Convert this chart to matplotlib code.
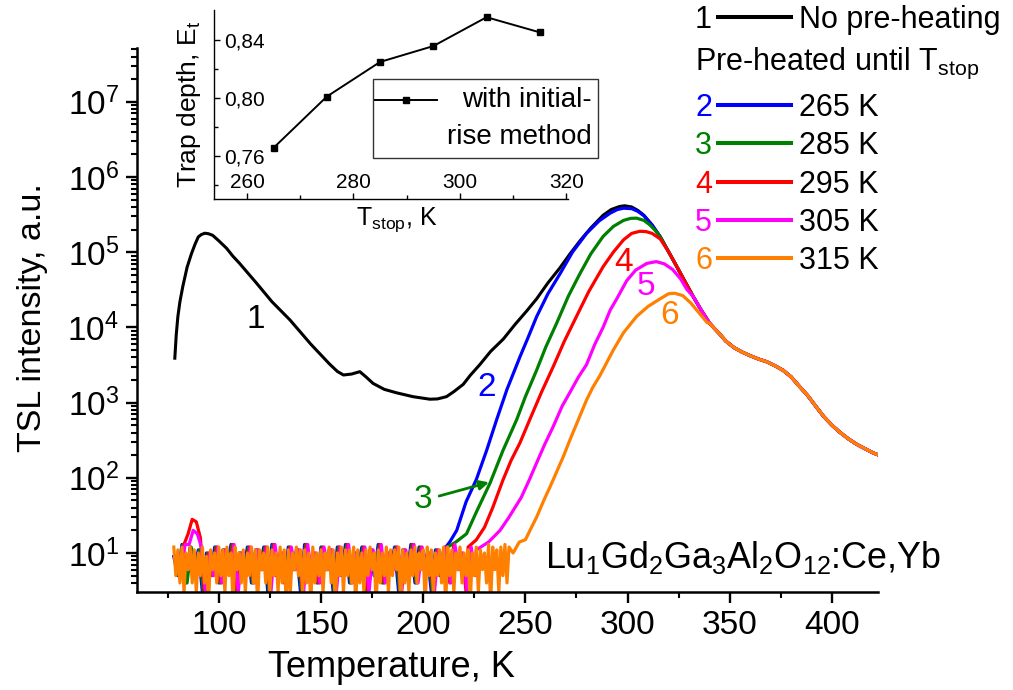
import numpy as np
import matplotlib
matplotlib.use("Agg")
from matplotlib import pyplot as plt
from matplotlib.lines import Line2D
from matplotlib.patches import Rectangle
from matplotlib.ticker import MultipleLocator, LogLocator, NullFormatter, FixedLocator, FuncFormatter

plt.rcParams.update(
    {
        "font.family": "Liberation Sans",
        "mathtext.fontset": "custom",
        "mathtext.rm": "Liberation Sans",
        "mathtext.it": "Liberation Sans",
        "mathtext.bf": "Liberation Sans:bold",
        "mathtext.default": "regular",
    }
)

# ---- data ----
# curve 1, no pre-heating (K, a.u.)
black_T = [78.5, 79.2, 80, 81, 82.4, 84.5, 86.6, 88.5, 90, 91.5, 93.2, 95, 97, 100, 103.8, 107,
           110, 118.4, 126, 134.8, 145, 154, 158, 161, 165, 169, 172, 175.5, 181, 187, 195,
           203.3, 207, 211.4, 215, 219.6, 223, 227.7, 233, 239.2, 245, 250.6, 255.5, 261,
           266.9, 271.8, 277, 282, 285, 288, 292, 296, 298.5, 302, 305, 308]
black_I = [3.9e3, 8e3, 1.4e4, 2.2e4, 3.5e4, 6.3e4, 9.5e4, 1.3e5, 1.6e5, 1.72e5, 1.79e5, 1.76e5,
           1.68e5, 1.42e5, 1.13e5, 8.8e4, 7.2e4, 3.9e4, 2.2e4, 1.26e4, 6e3, 3.3e3, 2.6e3, 2.33e3,
           2.4e3, 2.58e3, 2.2e3, 1.8e3, 1.5e3, 1.35e3, 1.2e3, 1.11e3, 1.12e3, 1.2e3, 1.4e3,
           1.75e3, 2.3e3, 3.2e3, 4.8e3, 7e3, 1.1e4, 1.65e4, 2.4e4, 3.9e4, 6.2e4, 9.5e4, 1.45e5,
           2.1e5, 2.55e5, 3.1e5, 3.7e5, 4.05e5, 4.15e5, 4.0e5, 3.6e5, 3.1e5]

# shared descent after the main peak and high temperature tail
desc_T = [312, 316, 320, 324, 328, 332, 336, 340]
desc_I = [2.3e5, 1.6e5, 1.02e5, 6.5e4, 4.1e4, 2.6e4, 1.7e4, 1.15e4]
tail_T = [342, 345, 348, 352, 356, 360, 364, 368, 372, 376, 380, 384, 388, 392, 396, 400,
          404, 408, 412, 416, 420, 423]
tail_I = [1.0e4, 8.2e3, 6.6e3, 5.4e3, 4.7e3, 4.2e3, 3.8e3, 3.5e3, 3.1e3, 2.7e3, 2.2e3, 1.65e3,
          1.25e3, 900, 650, 500, 400, 330, 280, 245, 215, 200]

# noisy background of curve 6 (1 K steps from 78 K)
floor_T = np.arange(78, 243, 1)
floor_orange = [12, 5, 11, 4, 12, 3, 10, 6, 12, 4,
                11, 3, 10, 5, 12, 4, 9, 2, 11, 6,
                10, 4, 12, 5, 11, 3, 12, 5, 10, 2,
                12, 6, 10, 4, 11, 3, 10, 5, 12, 4,
                11, 2, 11, 6, 10, 4, 12, 3, 11, 5,
                10, 3, 12, 4, 11, 2, 11, 3, 10, 6,
                12, 5, 11, 3, 11, 4, 10, 2, 12, 4,
                10, 5, 11, 3, 10, 6, 12, 4, 11, 2,
                10, 5, 12, 3, 11, 5, 11, 4, 12, 2,
                11, 4, 10, 3, 11, 5, 12, 6, 10, 2,
                11, 4, 10, 5, 12, 3, 11, 5, 11, 6,
                12, 2, 11, 4, 10, 3, 11, 5, 12, 4,
                10, 6, 11, 2, 12, 5, 11, 3, 10, 5,
                11, 4, 12, 2, 12, 5, 11, 3, 10, 6,
                12, 4, 10, 5, 11, 2, 10, 5, 12, 3,
                11, 6, 10, 4, 13, 2, 12, 6, 11, 3,
                12, 5, 13, 4, 12]
# noisy background of curves 2-5 (2 K steps from 78 K)
floor2_T = np.arange(78, 243, 2)
floor_mix = [9, 5, 13, 4, 12, 6, 11, 3, 10, 5,
             12, 4, 11, 6, 13, 3, 10, 5, 12, 4,
             11, 6, 12, 3, 13, 5, 10, 4, 12, 6,
             11, 3, 13, 5, 10, 4, 12, 6, 11, 3,
             12, 5, 13, 4, 10, 6, 12, 3, 11, 5,
             13, 4, 10, 6, 12, 3, 11, 5, 13, 4,
             12, 6, 10, 3, 11, 5, 12, 4, 13, 6,
             10, 3, 12, 5, 11, 4, 13, 6, 10, 3,
             12, 5, 11]
bump_T = [86, 88, 90, 92]
red_bump = [18, 28, 26, 16]
mag_bump = [13, 20, 18, 12]

# rising parts of the pre-heated curves
blue_T = [210, 213, 216.4, 221, 226, 231, 236, 241, 247.4, 251, 255.5, 261, 267, 273, 280, 286,
          291.4, 295, 298, 302, 305, 308]
blue_I = [11, 14, 20, 48, 95, 230, 600, 1.5e3, 4.1e3, 7e3, 1.39e4, 2.8e4, 5.2e4, 1.0e5, 1.79e5,
          2.6e5, 3.3e5, 3.7e5, 3.85e5, 3.8e5, 3.5e5, 3.05e5]
green_T = [212, 216, 221.2, 226, 232.7, 239, 245.7, 250, 255.5, 260, 265.3, 271, 276.7, 282, 288,
           293, 298, 301.5, 304.4, 308, 311, 313.5]
green_I = [12, 14, 18, 35, 85, 230, 590, 1.2e3, 2.7e3, 5.5e3, 1.14e4, 2.6e4, 5.2e4, 9.5e4, 1.62e5,
           2.2e5, 2.65e5, 2.82e5, 2.84e5, 2.65e5, 2.3e5, 1.95e5]
red_T = [222, 226, 230, 234, 239, 243, 247.3, 252.2, 258, 263.6, 269, 275, 281, 288, 293, 298,
         302, 306, 309, 312, 316]
red_I = [12, 15, 22, 40, 93, 170, 290, 600, 1.4e3, 3e3, 6.5e3, 1.4e4, 3e4, 6.4e4, 1.0e5, 1.46e5,
         1.78e5, 1.9e5, 1.88e5, 1.78e5, 1.5e5]
mag_T = [226, 232, 237.6, 242, 248, 252, 256, 259.5, 263.6, 268, 272, 276, 279.9, 284, 288, 291.5,
         294.7, 299.6, 304, 309.4, 314, 318, 322, 326, 329]
mag_I = [11, 14, 20, 30, 55, 95, 170, 280, 480, 900, 1.4e3, 2.2e3, 3.2e3, 6e3, 1.0e4, 1.7e4,
         2.4e4, 4.2e4, 5.8e4, 7.1e4, 7.5e4, 7.0e4, 5.9e4, 4.4e4, 3.2e4]
orange_T = [244, 247, 250, 253, 255.5, 259, 262, 265, 268.5, 272, 276, 279.9, 283, 286.5, 290,
            293, 298, 304.4, 310, 315.9, 320, 323, 327, 331, 335, 339]
orange_I = [10, 14, 15, 22, 30, 50, 75, 115, 190, 330, 600, 1.08e3, 1.6e3, 2.3e3, 3.5e3, 5e3,
            8.5e3, 1.4e4, 1.9e4, 2.4e4, 2.8e4, 2.85e4, 2.65e4, 2.1e4, 1.55e4, 1.15e4]

# inset: trap depth from initial rise
tstop = [265, 275, 285, 295, 305, 315]
depth = [0.7655, 0.801, 0.825, 0.836, 0.856, 0.8455]

# legend entries
leg_nums = ["2", "3", "4", "5", "6"]
leg_stop = [265, 285, 295, 305, 315]
colors = ["#0000FF", "#008000", "#FF0000", "#FF00FF", "#FF8000"]


def build(fT, floor_vals, rise_T, rise_I, bump=None):
    fI = np.array(floor_vals, dtype=float)
    if bump is not None:
        for t, v in zip(bump_T, bump):
            fI[np.argmin(np.abs(fT - t))] = v
    m = fT < rise_T[0]
    dT = np.array(desc_T)
    dm = dT > rise_T[-1]
    T = np.concatenate([fT[m], rise_T, dT[dm], tail_T])
    I = np.concatenate([fI[m], rise_I, np.array(desc_I)[dm], tail_I])
    return T, I


W, H = 1013, 690


def fx(px):
    return px / W


def fy(py):
    return 1 - py / H


fig = plt.figure(figsize=(W / 100, H / 100), dpi=100)
ax = fig.add_axes([fx(137), fy(592), 741 / W, 544 / H])

bT = np.concatenate([black_T, desc_T, tail_T])
bI = np.concatenate([black_I, desc_I, tail_I])
ax.plot(bT, bI, color="k", lw=2.2)

curves = [
    build(floor2_T, floor_mix, blue_T, blue_I),
    build(floor2_T + 0.5, floor_mix, green_T, green_I),
    build(floor2_T + 1.0, floor_mix, red_T, red_I, bump=red_bump),
    build(floor2_T + 1.5, floor_mix, mag_T, mag_I, bump=mag_bump),
    build(floor_T, floor_orange, orange_T, orange_I),
]
for (T, I), c in zip(curves, colors):
    ax.plot(T, I, color=c, lw=2.3)

ax.set_yscale("log")
ax.set_xlim(60, 422.5)
ax.set_ylim(3.03, 5.2e7)
ax.spines[["top", "right"]].set_visible(False)
for s in ["left", "bottom"]:
    ax.spines[s].set_linewidth(1.8)
ax.xaxis.set_major_locator(MultipleLocator(50))
ax.xaxis.set_minor_locator(MultipleLocator(25))
ax.yaxis.set_major_locator(LogLocator(base=10, numticks=20))
ax.yaxis.set_minor_locator(LogLocator(base=10, subs=np.arange(2, 10), numticks=20))
ax.yaxis.set_minor_formatter(NullFormatter())
ax.tick_params(which="major", direction="out", length=8, width=1.7, labelsize=24, pad=5)
ax.tick_params(which="minor", direction="out", length=4.5, width=1.5)

ax.set_xlabel("Temperature, K", fontsize=26)
ax.xaxis.label.set_va("baseline")
ax.xaxis.set_label_coords(0.344, (592 - 677) / 544)
ax.set_ylabel("TSL intensity, a.u.", fontsize=24.5)
ax.yaxis.set_label_coords((48 - 137) / 741, 0.505)

# curve numbers
ax.text(118, 1.26e4, "1", color="k", fontsize=24, ha="center", va="center")
ax.text(231, 1.6e3, "2", color=colors[0], fontsize=24, ha="center", va="center")
ax.text(200, 51, "3", color=colors[1], fontsize=24, ha="center", va="center")
ax.annotate("", xy=(233.5, 89), xytext=(206.5, 56),
            arrowprops=dict(arrowstyle="-|>", color=colors[1], lw=2, mutation_scale=14))
ax.text(298, 7.4e4, "4", color=colors[2], fontsize=24, ha="center", va="center")
ax.text(309, 3.46e4, "5", color=colors[3], fontsize=24, ha="center", va="center")
ax.text(320.7, 1.42e4, "6", color=colors[4], fontsize=24, ha="center", va="center")

fig.text(fx(545), fy(568), r"Lu$_1$Gd$_2$Ga$_3$Al$_2$O$_{12}$:Ce,Yb", fontsize=25.8, va="baseline")

# legend on the right
fig.text(fx(695), fy(28), "1", fontsize=22, va="baseline", color="k")
fig.add_artist(Line2D([fx(718), fx(791)], [fy(17)] * 2, color="k", lw=2.9))
fig.text(fx(799), fy(28), "No pre-heating", fontsize=22, va="baseline")
fig.text(fx(695), fy(70), r"Pre-heated until T$_{stop}$", fontsize=22, va="baseline")
row_y = [105, 143, 182, 220, 258]
for num, st, c, yy in zip(leg_nums, leg_stop, colors, row_y):
    fig.text(fx(695), fy(yy + 11), num, fontsize=22, va="baseline", color=c)
    fig.add_artist(Line2D([fx(718), fx(791)], [fy(yy)] * 2, color=c, lw=2.9))
    fig.text(fx(799), fy(yy + 11), f"{st} K", fontsize=22, va="baseline")

# inset
axi = fig.add_axes([fx(214), fy(199), 354 / W, 189 / H])
axi.plot(tstop, depth, "s-", color="k", lw=1.4, ms=5)
axi.set_xlim(253.8, 320.3)
axi.set_ylim(0.73, 0.861)
axi.spines[["top", "right"]].set_visible(False)
for s in ["left", "bottom"]:
    axi.spines[s].set_linewidth(1.0)
axi.xaxis.set_major_locator(FixedLocator([260, 280, 300, 320]))
axi.xaxis.set_minor_locator(FixedLocator([270, 290, 310]))
axi.yaxis.set_major_locator(FixedLocator([0.76, 0.80, 0.84]))
axi.yaxis.set_minor_locator(FixedLocator([0.74, 0.78, 0.82]))
axi.yaxis.set_major_formatter(FuncFormatter(lambda v, p: f"{v:.2f}".replace(".", ",")))
axi.tick_params(which="major", direction="in", length=4.5, width=1.0, labelsize=15)
axi.tick_params(which="minor", direction="in", length=3, width=1.0)
axi.tick_params(axis="x", which="major", pad=-18.7)
axi.tick_params(axis="y", which="major", pad=-36.7)
axi.set_ylabel(r"Trap depth, E$_t$", fontsize=19)
axi.yaxis.set_label_coords((203 - 214) / 354, 0.5)
axi.set_xlabel(r"T$_{stop}$, K", fontsize=18)
axi.xaxis.set_label_coords((397 - 214) / 354, (199 - 205) / 189)

# inset legend
fig.add_artist(Rectangle((fx(373), fy(158)), 225 / W, 79 / H, facecolor="white",
                         edgecolor="#333333", lw=1.0))
fig.add_artist(Line2D([fx(375), fx(437)], [fy(100)] * 2, color="k", lw=1.4))
fig.add_artist(Line2D([fx(406)], [fy(100)], color="k", marker="s", ms=5))
fig.text(fx(592), fy(100), "with initial-", fontsize=20, ha="right", va="center")
fig.text(fx(592), fy(137), "rise method", fontsize=20, ha="right", va="center")

fig.savefig("out.png", dpi=100, facecolor="white")
